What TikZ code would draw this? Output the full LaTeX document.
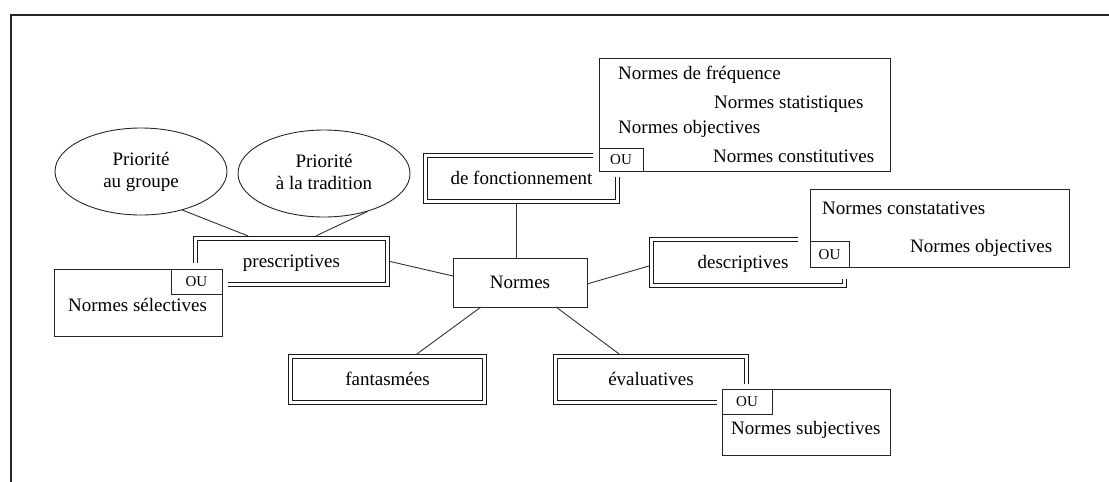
\documentclass[tikz,border=0pt]{standalone}
\usepackage{fontspec}
\setmainfont{Liberation Serif}
\usetikzlibrary{shapes.geometric,calc}
\begin{document}
\begin{tikzpicture}[x=1pt,y=-1pt,
  font=\fontsize{19}{22}\selectfont,
  dbox/.style={draw=black!90, double, line width=1pt, double distance=2.7pt,
    inner sep=0pt, outer sep=2.6pt, minimum width=#1, minimum height=46pt,
    text height=12.6pt, text depth=0pt},
  pbox/.style={draw=black!85, line width=1pt, inner sep=0pt, outer sep=0pt},
  oubox/.style={draw=black!85, line width=1pt, inner sep=0pt, outer sep=0pt,
    font=\fontsize{15}{18}\selectfont, text height=10pt, text depth=0pt},
  ell/.style={draw=black!85, ellipse, line width=0.9pt, inner sep=0pt,
    minimum width=172pt, minimum height=87pt, align=center},
  txt/.style={anchor=base west, inner sep=0pt},
  conn/.style={draw=black!80, line width=0.9pt},
  mask/.style={fill=white}
]
\useasboundingbox (0,0) rectangle (1109,482);
% frame
\draw[line width=1.2pt, black!85] (11,482) -- (11,15) -- (1109,15);

% ellipses
\node[ell] (e1) at (141,171.5) {Priorité\\au groupe};
\node[ell] (e2) at (324,173.5) {Priorité\\à la tradition\vphantom{g}};

% double boxes
\node[dbox=192pt] (pres) at (291.5,261.5) {prescriptives};
\node[dbox=192pt] (fonct) at (521.5,178.5) {de fonctionnement};
\node[dbox=193pt] (desc) at (748,262.5) {descriptives\hspace*{10pt}};
\node[dbox=194pt] (fant) at (387.5,379.5) {fantasmées};
\node[dbox=191pt] (eval) at (651,379.5) {évaluatives};

% central node
\node[pbox, minimum width=134pt, minimum height=49pt, text height=12.6pt, text depth=0pt] (norm) at (520,282.5) {Normes};

% connectors
\draw[conn] (e1.-43) -- ([xshift=-43.5pt]pres.north);
\draw[conn] (e2.-41) -- ([xshift=24.5pt]pres.north);
\draw[conn] (pres.east) -- ([yshift=6.5pt]norm.west);
\draw[conn] ([xshift=-4pt]norm.north) -- ([xshift=-5.5pt]fonct.south);
\draw[conn] ([yshift=-1.5pt]norm.east) -- ([yshift=-3.5pt]desc.west);
\draw[conn] ([xshift=-39pt]norm.south) -- ([xshift=29.5pt]fant.north);
\draw[conn] ([xshift=36pt]norm.south) -- ([xshift=-32pt]eval.north);

% masks (white gaps around the option boxes)
\fill[mask] (48,263) rectangle (228,342);
\fill[mask] (593,52) rectangle (896,177);
\fill[mask] (798,177) rectangle (1081,279);
\fill[mask] (717,384) rectangle (895,460);

% option boxes
\node[pbox, anchor=north west, minimum width=168pt, minimum height=67pt] (sel) at (54,269) {};
\node[oubox, anchor=north east, minimum width=51pt, minimum height=25pt] (selou) at (sel.north east) {OU};
\node[txt] (tsel) at (68,311.7) {Normes sélectives};

\node[pbox, anchor=north west, minimum width=291pt, minimum height=113pt] (big) at (599,58) {};
\node[oubox, anchor=south west, minimum width=44pt, minimum height=23pt] (bigou) at (big.south west) {OU};
\node[txt] (tfreq) at (618,79.5) {Normes de fréquence};
\node[txt] (tstat) at (714,108.5) {Normes statistiques};
\node[txt] (tobj) at (618,133.5) {Normes objectives};
\node[txt] (tconst) at (713,162.3) {Normes constitutives};

\node[pbox, anchor=north west, minimum width=259pt, minimum height=78pt] (cst) at (810,189) {};
\node[oubox, anchor=south west, minimum width=39pt, minimum height=26pt] (cstou) at (cst.south west) {OU};
\node[txt] (tcst) at (822,214.3) {Normes constatatives};
\node[txt] (tobjb) at (910,252.3) {Normes objectives};

\node[pbox, anchor=north west, minimum width=168pt, minimum height=66pt] (subj) at (722,389) {};
\node[oubox, anchor=north west, minimum width=50pt, minimum height=25pt] (subjou) at (subj.north west) {OU};
\node[txt] (tsubj) at (731,434.3) {Normes subjectives};
\end{tikzpicture}
\end{document}
